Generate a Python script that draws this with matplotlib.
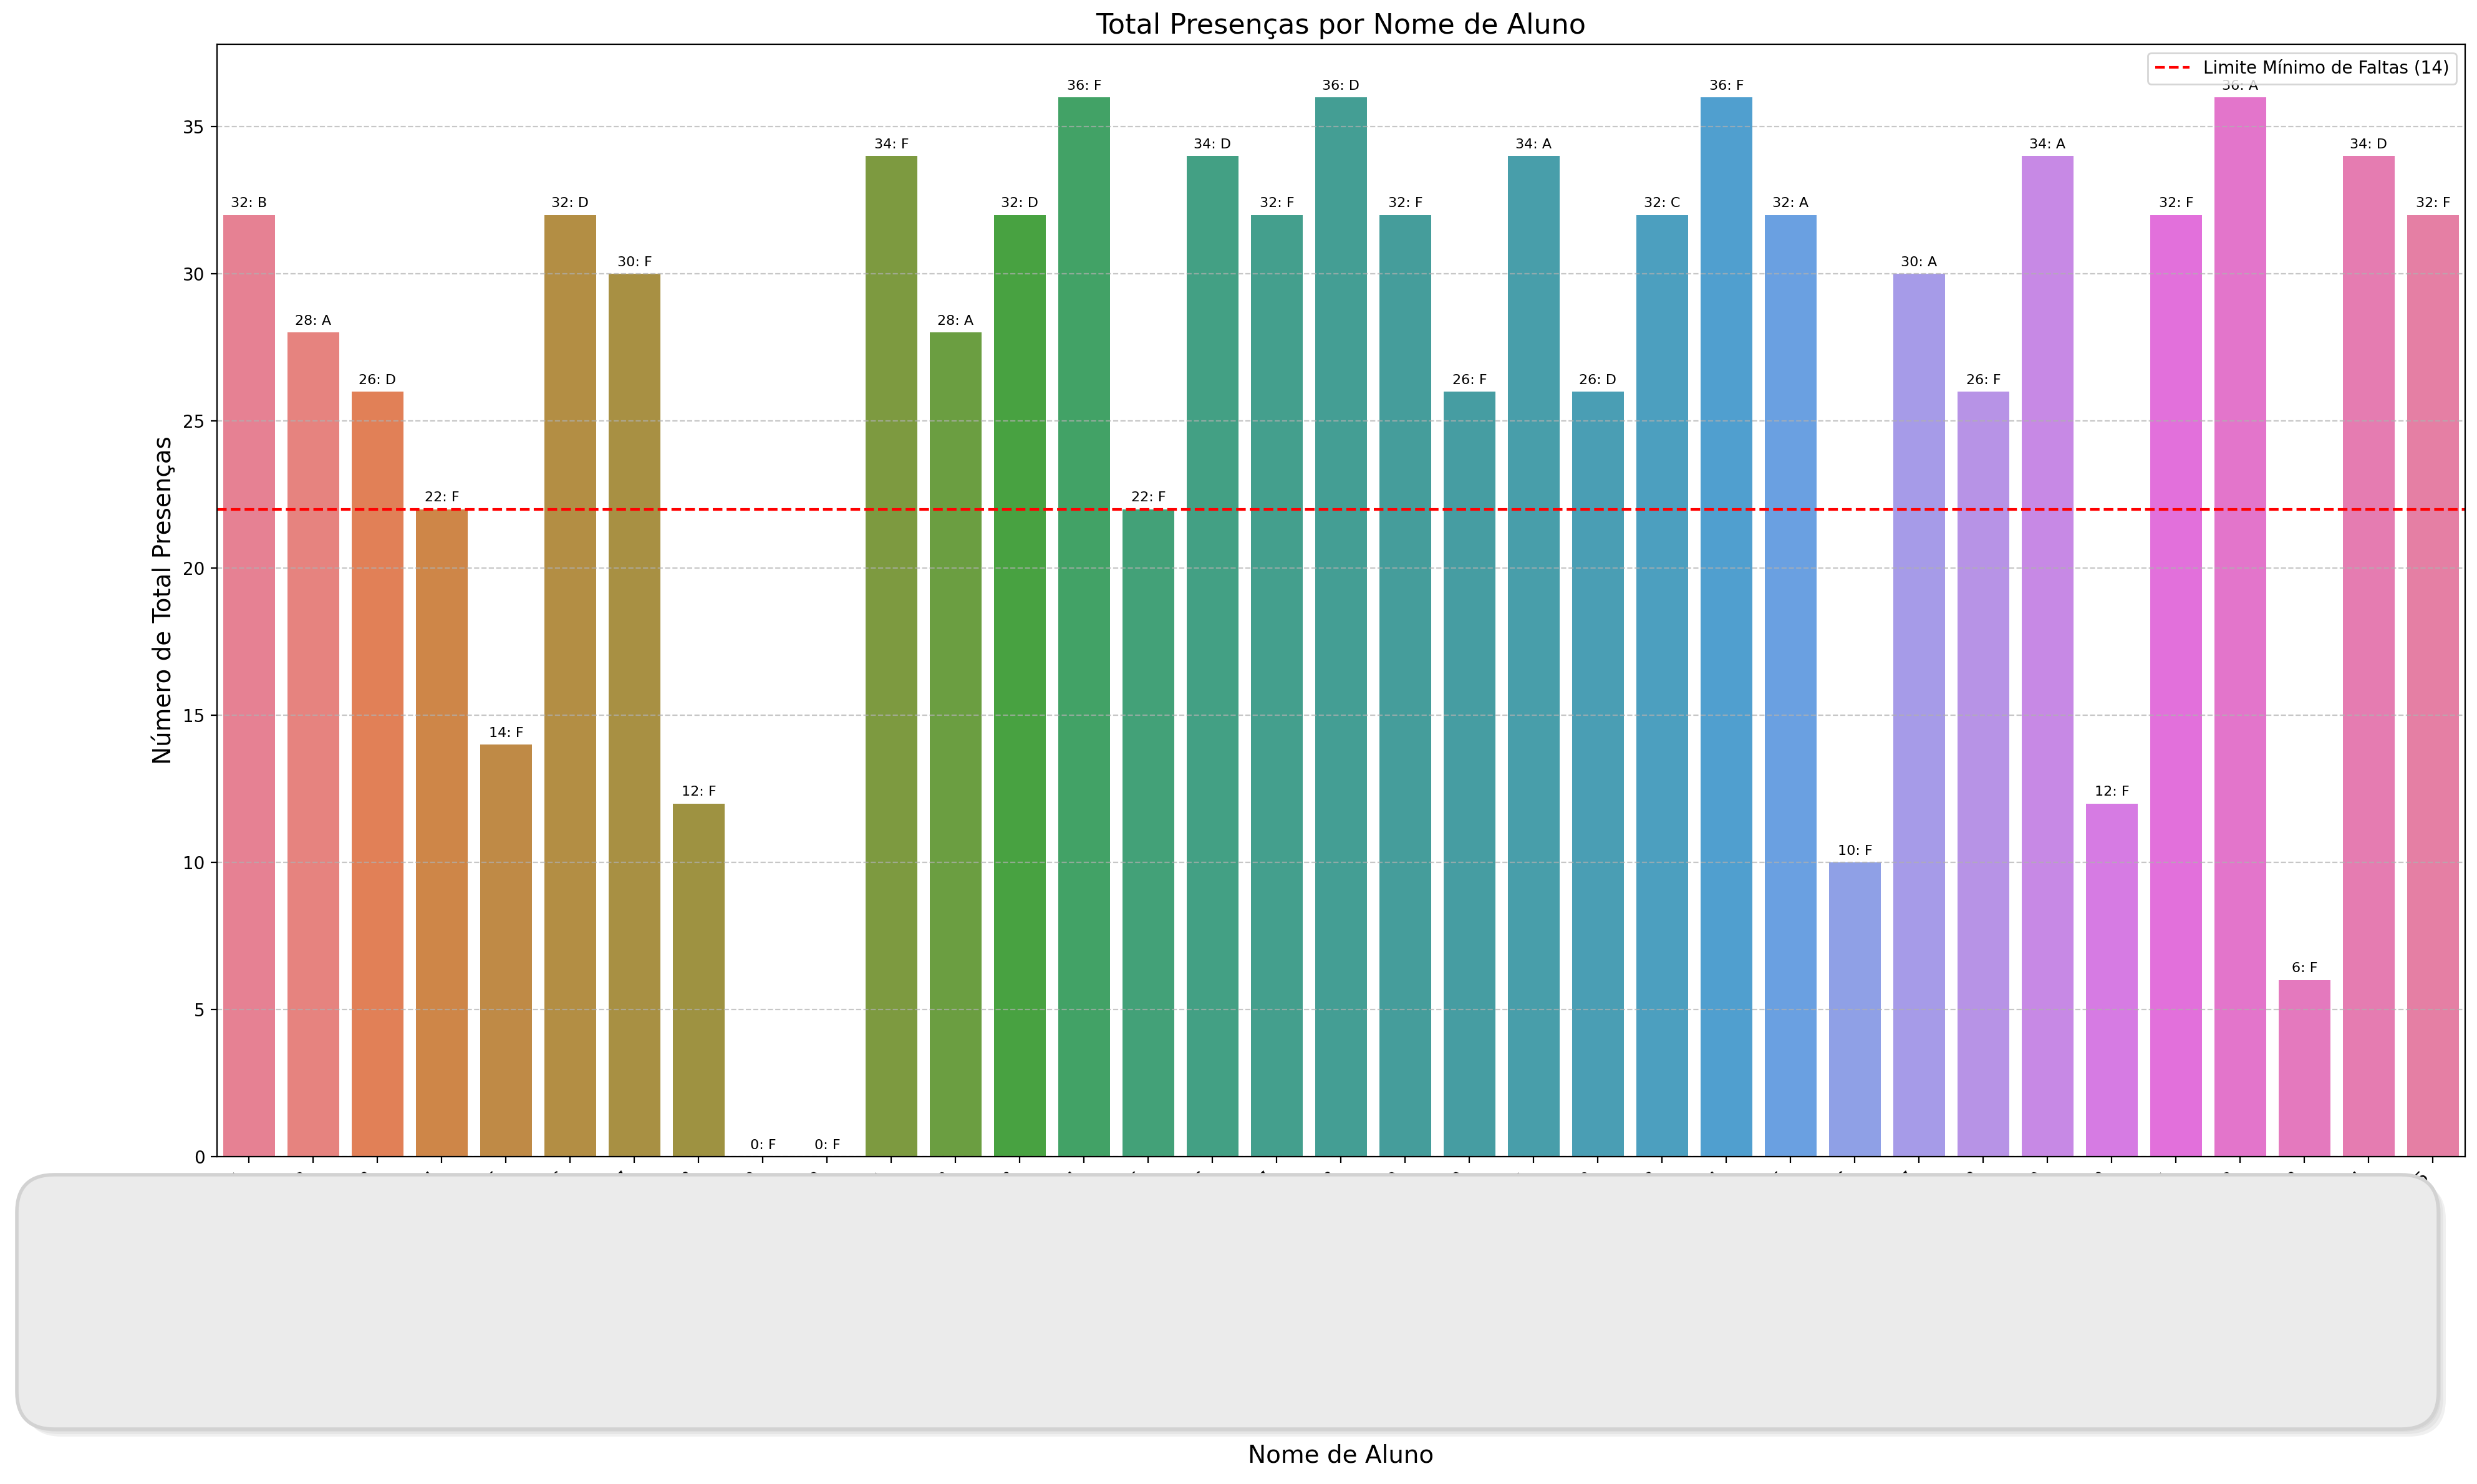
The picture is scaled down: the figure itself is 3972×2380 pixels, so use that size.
import numpy as np
import matplotlib
matplotlib.use("Agg")
import matplotlib.pyplot as plt
import seaborn as sns
from matplotlib.patches import FancyBboxPatch
from matplotlib.transforms import IdentityTransform

# nomes reais cobertos pela caixa cinza; usamos nomes genericos
nomes = ["Aluno %02d" % (i + 1) for i in range(35)]
presencas = [32, 28, 26, 22, 14, 32, 30, 12, 0, 0,
             34, 28, 32, 36, 22, 34, 32, 36, 32, 26,
             34, 26, 32, 36, 32, 10, 30, 26, 34, 12,
             32, 36, 6, 34, 32]
conceitos = ["B", "A", "D", "F", "F", "D", "F", "F", "F", "F",
             "F", "A", "D", "F", "F", "D", "F", "D", "F", "F",
             "A", "D", "C", "F", "A", "F", "A", "F", "A", "F",
             "F", "A", "F", "D", "F"]
limite = 22
limite_label = "Limite Mínimo de Faltas (14)"

DPI = 200
fig = plt.figure(figsize=(3972 / DPI, 2380 / DPI), dpi=DPI)
ax = fig.add_subplot(111)
fig.subplots_adjust(left=0.0876, right=0.9952, bottom=0.2206, top=0.9702)

sns.barplot(x=nomes, y=presencas, hue=nomes, palette="husl", legend=False, ax=ax)

for i, (v, c) in enumerate(zip(presencas, conceitos)):
    ax.annotate("{}: {}".format(v, c), (i, v), xytext=(0, 3), textcoords="offset points",
                ha="center", va="bottom", fontsize=8)

ax.axhline(limite, color="red", linestyle="--", label=limite_label)
ax.set_title("Total Presenças por Nome de Aluno", fontsize=16)
ax.set_ylabel("Número de Total Presenças", fontsize=14)
ax.set_xlabel("Nome de Aluno", fontsize=14)
ax.xaxis.set_label_coords(0.5, -0.258)
plt.setp(ax.get_xticklabels(), rotation=45, ha="right")
ax.grid(axis="y", linestyle="--", alpha=0.7)
ax.legend(loc="upper right")

# caixa cinza por cima dos nomes
x0, y0, w, h = 27, 2380 - 2292, 3883, 408
for k, a in enumerate([0.10, 0.10, 0.12]):
    off = 4 + 4 * k
    sh = FancyBboxPatch((x0 + off, y0 - off), w, h, boxstyle="round,pad=0,rounding_size=60",
                        transform=IdentityTransform(), facecolor="#888888", edgecolor="none",
                        alpha=a, zorder=9)
    fig.patches.append(sh)
box = FancyBboxPatch((x0, y0), w, h, boxstyle="round,pad=0,rounding_size=60",
                     transform=IdentityTransform(), facecolor="#ebebeb", edgecolor="#d2d2d2",
                     linewidth=2.0, zorder=10)
fig.patches.append(box)

fig.savefig("out.png", dpi=DPI)
